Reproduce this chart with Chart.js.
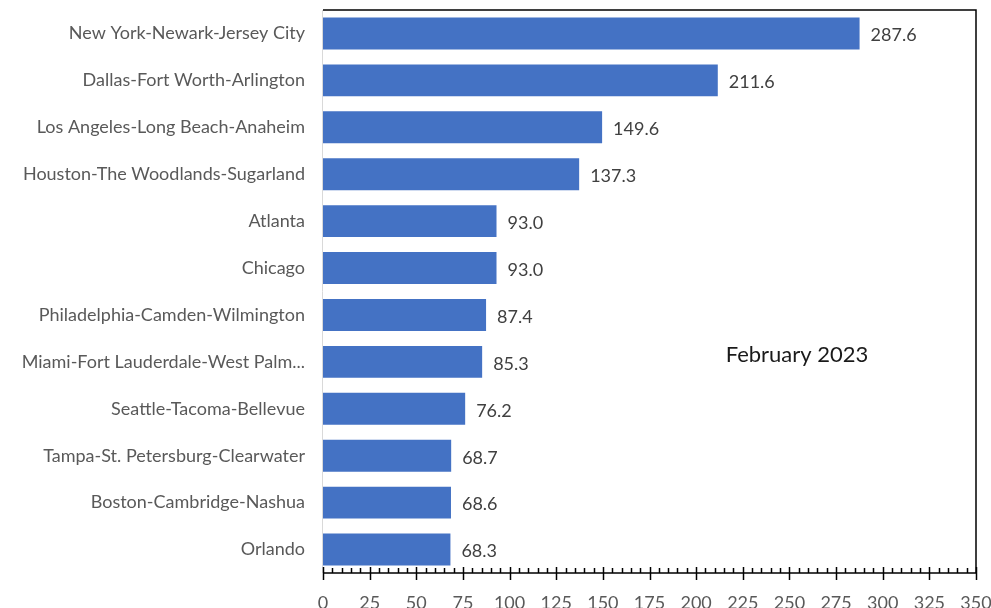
<!DOCTYPE html>
<html>
<head>
<meta charset="utf-8">
<script src="https://cdn.jsdelivr.net/npm/chart.js@4.4.1/dist/chart.umd.min.js"></script>
<style>
  html, body { margin: 0; padding: 0; background: #fff; }
  #wrap { width: 991px; height: 608px; }
</style>
</head>
<body>
<div id="wrap"><canvas id="myCanvas"></canvas></div>
<script>
const metros = [
  "New York-Newark-Jersey City",
  "Dallas-Fort Worth-Arlington",
  "Los Angeles-Long Beach-Anaheim",
  "Houston-The Woodlands-Sugarland",
  "Atlanta",
  "Chicago",
  "Philadelphia-Camden-Wilmington",
  "Miami-Fort Lauderdale-West Palm...",
  "Seattle-Tacoma-Bellevue",
  "Tampa-St. Petersburg-Clearwater",
  "Boston-Cambridge-Nashua",
  "Orlando"
];
const values = [287.6, 211.6, 149.6, 137.3, 93.0, 93.0, 87.4, 85.3, 76.2, 68.7, 68.6, 68.3];
const xTicks = [0, 25, 50, 75, 100, 125, 150, 175, 200, 225, 250, 275, 300, 325, 350];
const periodLabel = "February 2023";

const FONT = "Lato, 'Open Sans', sans-serif";

// frame, axis ticks, value labels and the period note
const decorations = {
  id: "decorations",
  afterDraw(chart) {
    const ctx = chart.ctx;
    const a = chart.chartArea;
    const x = chart.scales.x;
    ctx.save();

    // light left edge
    ctx.strokeStyle = "#d9d9d9";
    ctx.lineWidth = 1;
    ctx.beginPath();
    ctx.moveTo(a.left - 0.5, a.top);
    ctx.lineTo(a.left - 0.5, a.bottom);
    ctx.stroke();

    // top, right, bottom lines
    ctx.strokeStyle = "#000";
    ctx.lineWidth = 1.5;
    ctx.beginPath();
    ctx.moveTo(a.left, a.top);
    ctx.lineTo(a.right, a.top);
    ctx.lineTo(a.right, a.bottom);
    ctx.lineTo(a.left, a.bottom);
    ctx.stroke();

    // major and minor ticks
    ctx.lineWidth = 1.5;
    for (let v = 0; v <= 350; v += 5) {
      const px = Math.round(x.getPixelForValue(v)) + 0.5;
      ctx.beginPath();
      if (v % 25 === 0) {
        ctx.moveTo(px, a.bottom - 6);
        ctx.lineTo(px, a.bottom + 7);
      } else {
        ctx.moveTo(px, a.bottom - 5);
        ctx.lineTo(px, a.bottom);
      }
      ctx.stroke();
    }

    // value labels at bar ends
    ctx.fillStyle = "#404040";
    ctx.font = "18px " + FONT;
    ctx.textAlign = "left";
    ctx.textBaseline = "middle";
    chart.getDatasetMeta(0).data.forEach((bar, i) => {
      ctx.fillText(values[i].toFixed(1), bar.x + 11, bar.y + 2);
    });

    // period note
    ctx.fillStyle = "#1a1a1a";
    ctx.font = "22px " + FONT;
    ctx.textAlign = "center";
    ctx.fillText(periodLabel, 797, 355);
    ctx.restore();
  }
};

new Chart(document.getElementById("myCanvas").getContext("2d"), {
  type: "bar",
  data: {
    labels: metros,
    datasets: [{
      data: values,
      backgroundColor: "#4472C4",
      borderWidth: 0,
      categoryPercentage: 1,
      barPercentage: 0.68
    }]
  },
  options: {
    indexAxis: "y",
    responsive: true,
    maintainAspectRatio: false,
    animation: false,
    layout: { padding: { top: 10, right: 15, left: 0, bottom: 0 } },
    plugins: { legend: { display: false }, tooltip: { enabled: false } },
    scales: {
      x: {
        min: 0,
        max: 350,
        afterBuildTicks(scale) { scale.ticks = xTicks.map(v => ({ value: v })); },
        afterFit(scale) {
          scale.height = 35;
          scale.paddingLeft = 0;
          scale.paddingRight = 0;
        },
        grid: { display: false, drawTicks: false },
        border: { display: false },
        ticks: {
          color: "#595959",
          font: { family: FONT, size: 18 },
          padding: 19,
          maxRotation: 0
        }
      },
      y: {
        afterFit(scale) {
          scale.width = 323;
          scale.paddingTop = 0;
          scale.paddingBottom = 0;
        },
        grid: { display: false, drawTicks: false },
        border: { display: false },
        ticks: {
          color: "#595959",
          font: { family: FONT, size: 18 },
          padding: 18,
          autoSkip: false
        }
      }
    }
  },
  plugins: [decorations]
});
</script>
</body>
</html>
